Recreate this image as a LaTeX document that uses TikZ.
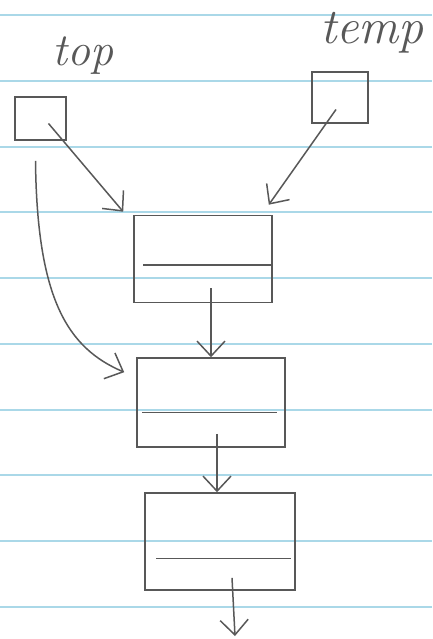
\documentclass[tikz,border=0pt]{standalone}
\usepackage{tikz}
\usetikzlibrary{calc,arrows.meta}
\definecolor{pencil}{RGB}{88,88,88}
\definecolor{ruled}{RGB}{170,216,232}

\tikzset{
  cell/.style={draw=pencil, line width=1.6pt, inner sep=0pt},
  divider/.style={draw=pencil, line width=1.8pt},
  ptr/.style={draw=pencil, line width=1.5pt, -{Straight Barb[length=15pt,width=28pt,line width=1.5pt]}},
  hand/.style={text=pencil, font=\fontsize{46}{46}\selectfont\itshape}
}

\begin{document}
\begin{tikzpicture}[x=1pt,y=-1pt]
					%PAPER
					\fill[white] (0,0) rectangle (432,639);
					\useasboundingbox (0,0) rectangle (432,639);
					\foreach \y in {15,81,147,212,278,344,410,475,541,607}
						\draw[ruled, line width=1.4pt] (0,\y) -- (432,\y);
					%POINTERS
					\node[hand] (toplabel) at (83,56) {top};
					\node[hand, font=\fontsize{50}{50}\selectfont\itshape] (templabel) at (372,33) {temp};
					\node[cell, minimum width=51pt, minimum height=43pt] (top) at (40.5,118.5) {};
					\node[cell, minimum width=56pt, minimum height=51pt] (temp) at (340,97.5) {};
					%LIST NODES
					\node[cell, minimum width=138pt, minimum height=87pt] (n1) at (203,259) {};
					\node[cell, minimum width=148pt, minimum height=89pt] (n2) at (211,402.5) {};
					\node[cell, minimum width=150pt, minimum height=97pt] (n3) at (220,541.5) {};
					\draw[divider] ($(n1.west)+(10,6)$) -- ($(n1.east)+(0,6)$);
					\draw[divider] ($(n2.west)+(6,10)$) -- ($(n2.east)+(-9,10)$);
					\draw[divider] ($(n3.west)+(12,17)$) -- ($(n3.east)+(-5,17)$);
					\coordinate (out) at (235,636);
					%ARROWS
					\draw[ptr] ($(top.center)+(8,5)$) -- ($(n1.north west)+(-10,-3)$);
					\draw[ptr] ($(temp.center)+(-4,12)$) -- ($(n1.north east)+(-4,-10)$);
					\draw[ptr] ($(top.south)+(-5,20)$) .. controls (37,300) and (68,348) .. ($(n2.north west)+(-12,15)$);
					\coordinate (a) at ($(n1.south)+(8,-15)$);
					\draw[ptr] (a) -- (a |- n2.north);
					\coordinate (b) at ($(n2.south)+(6,-14)$);
					\draw[ptr] (b) -- (b |- n3.north);
					\draw[ptr] ($(n3.south)+(12,-13)$) -- (out);
\end{tikzpicture}
\end{document}
